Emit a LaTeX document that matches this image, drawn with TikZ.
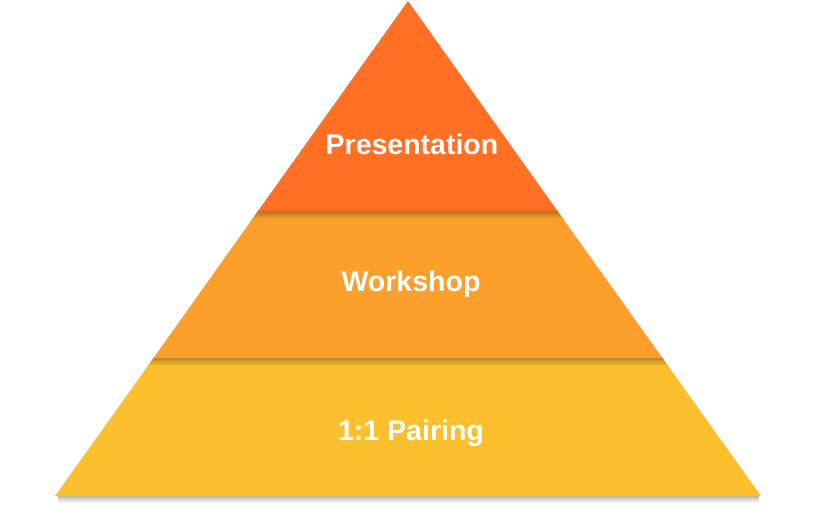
\documentclass[tikz,border=0pt]{standalone}
\usepackage{fontspec}
\setmainfont{Liberation Sans}
\definecolor{topc}{HTML}{FF6F24}
\definecolor{midc}{HTML}{FDA02B}
\definecolor{botc}{HTML}{FCBF2E}
\tikzset{
  lbl/.style={font=\fontsize{28.5}{31}\selectfont\bfseries, text=white, inner sep=0pt}
}
\begin{document}
\begin{tikzpicture}[x=1pt,y=-1pt]
\useasboundingbox (0,0) rectangle (816,515);
\fill[white] (0,0) rectangle (816,515);
% base shadow
\shade[top color=black!28, bottom color=white] (58,496) rectangle (759,503);
\fill[botc] (153.5,358) -- (662.5,358) -- (761,496) -- (55,496) -- cycle;
\begin{scope}
\clip (153.5,358) -- (662.5,358) -- (761,496) -- (55,496) -- cycle;
\shade[top color=botc!72!black, bottom color=botc] (140,358) rectangle (680,366);
\end{scope}
\fill[midc] (258,211) -- (557.5,211) -- (662.5,358) -- (153.5,358) -- cycle;
\begin{scope}
\clip (258,211) -- (557.5,211) -- (662.5,358) -- (153.5,358) -- cycle;
\shade[top color=midc!72!black, bottom color=midc] (240,211) rectangle (580,219);
\end{scope}
\fill[topc] (408,1) -- (557.5,211) -- (258,211) -- cycle;
\node[lbl] (p) at (412,144) {Presentation};
\node[lbl] (w) at (411,284) {Workshop};
\node[lbl] (o) at (411,433) {1:1 Pairing};
\end{tikzpicture}
\end{document}
